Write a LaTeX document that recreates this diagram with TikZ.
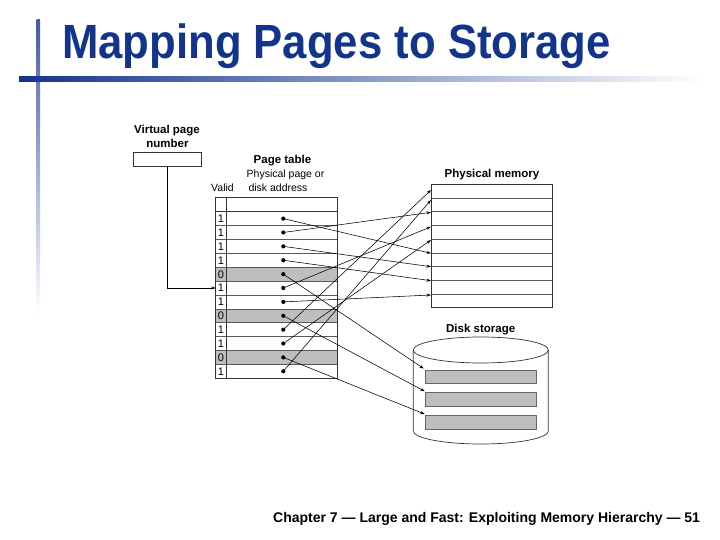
\documentclass[tikz,border=0pt]{standalone}
\usepackage{fontspec}
\setmainfont{Liberation Sans}
\usetikzlibrary{arrows.meta}
\definecolor{titleblue}{RGB}{18,52,140}
\definecolor{rowgray}{RGB}{190,190,190}
\begin{document}
\begin{tikzpicture}[x=1pt,y=-1pt,
  lbl/.style={font=\fontsize{11.5}{13}\selectfont\bfseries, inner sep=0pt, anchor=base},
  sub/.style={font=\fontsize{10.5}{12}\selectfont, inner sep=0pt, anchor=base},
  bit/.style={font=\fontsize{11}{12}\selectfont, inner sep=0pt},
  boxline/.style={line width=0.7pt, black!80},
  rowline/.style={line width=0.5pt, black!65},
  ptr/.style={-{Stealth[length=4.5pt,width=3pt]}, line width=0.55pt},
  dotmark/.style={circle, fill=black, inner sep=0pt, minimum size=4.2pt},
  bar/.style={fill=rowgray, draw=black!60, line width=0.5pt, minimum width=111pt, minimum height=13.5pt, inner sep=0pt}]
\useasboundingbox (0,0) rectangle (720,540);
\fill[white] (0,0) rectangle (720,540);
% header decoration
\shade[top color=titleblue!80, bottom color=white] (36.5,20) rectangle (40,315);
\shade[left color=titleblue, right color=white] (19,77) rectangle (705,81.5);
\node[anchor=base west, font=\fontsize{48}{56}\selectfont\bfseries, text=titleblue, xscale=0.91, inner sep=0pt] (title) at (62,59) {Mapping Pages to Storage};
\node[anchor=base west, font=\fontsize{14}{16}\selectfont\bfseries, inner sep=0pt] (foot) at (273,522) {Chapter 7 — Large and Fast: Exploiting Memory Hierarchy — 51};

% virtual page number
\node[lbl] (vpl1) at (167,134) {Virtual page};
\node[lbl] (vpl2) at (167.5,147.5) {number};
\node[draw, boxline, minimum width=67.7pt, minimum height=13.3pt, inner sep=0pt] (vpn) at (167.2,159.4) {};

% page table labels
\node[lbl] (ptl) at (282.5,164) {Page table};
\node[sub] (ptl2) at (285.5,177.7) {Physical page or};
\node[sub] (ptl3) at (278,191.5) {disk address};
\node[sub] (valid) at (222.5,191.5) {Valid};

% page table
\foreach \r in {5,8,11}
  \fill[rowgray] (215.7,{211.7+13.88*(\r-1)}) rectangle (337.7,{211.7+13.88*\r});
\foreach \i in {1,...,11}
  \draw[rowline] (215.7,{211.7+13.88*\i}) -- (337.7,{211.7+13.88*\i});
\draw[boxline] (215.7,197.3) rectangle (337.7,378.3);
\draw[boxline] (226.7,197.3) -- (226.7,378.3);
\draw[boxline] (215.7,211.7) -- (337.7,211.7);
\foreach \v [count=\i] in {1,1,1,1,0,1,1,0,1,1,0,1}
  \node[bit] (v\i) at (221,{218.8+13.88*(\i-1)}) {\v};
\foreach \i in {1,...,12}
  \node[dotmark] (d\i) at (283.3,{218.6+13.88*(\i-1)}) {};
\coordinate (r6w) at (215.7,288.0);
\draw[ptr] (vpn.south) |- (r6w);

% physical memory
\node[lbl] (pml) at (492,177.7) {Physical memory};
\draw[boxline] (431.7,184.3) rectangle (552.3,307.7);
\foreach \i in {1,...,8}
  \draw[rowline] (431.7,{184.3+13.71*\i}) -- (552.3,{184.3+13.71*\i});
\coordinate (pm1) at (431,190);
\coordinate (pm2) at (431,200);
\coordinate (pm3) at (431,212.3);
\coordinate (pm4) at (431,226.7);
\coordinate (pm5) at (431,240);
\coordinate (pm6) at (431,253.3);
\coordinate (pm7) at (431,266.7);
\coordinate (pm8) at (431,280.7);
\coordinate (pm9) at (431,295);

% disk storage
\node[lbl] (dsl) at (480.7,332.3) {Disk storage};
\draw[boxline] (413.3,350) -- (413.3,431) arc[start angle=180, end angle=360, x radius=67.5pt, y radius=13pt] -- (548.3,350);
\draw[boxline] (480.8,350) ellipse[x radius=67.5pt, y radius=13pt];
\node[bar] (bar1) at (480.5,376.6) {};
\node[bar] (bar2) at (480.5,399.3) {};
\node[bar] (bar3) at (480.5,422.1) {};

% mappings
\draw[ptr] (d1.center) -- (pm6);
\draw[ptr] (d2.center) -- (pm3);
\draw[ptr] (d3.center) -- (pm7);
\draw[ptr] (d4.center) -- (pm8);
\draw[ptr] (d6.center) -- (pm4);
\draw[ptr] (d7.center) -- (pm9);
\draw[ptr] (d9.center) -- (pm1);
\draw[ptr] (d10.center) -- (pm5);
\draw[ptr] (d12.center) -- (pm2);
\draw[ptr] (d5.center) -- ([xshift=-1pt,yshift=1pt]bar1.north west);
\draw[ptr] (d8.center) -- ([yshift=1pt]bar2.north west);
\draw[ptr] (d11.center) -- ([yshift=1pt]bar3.north west);
\end{tikzpicture}
\end{document}
